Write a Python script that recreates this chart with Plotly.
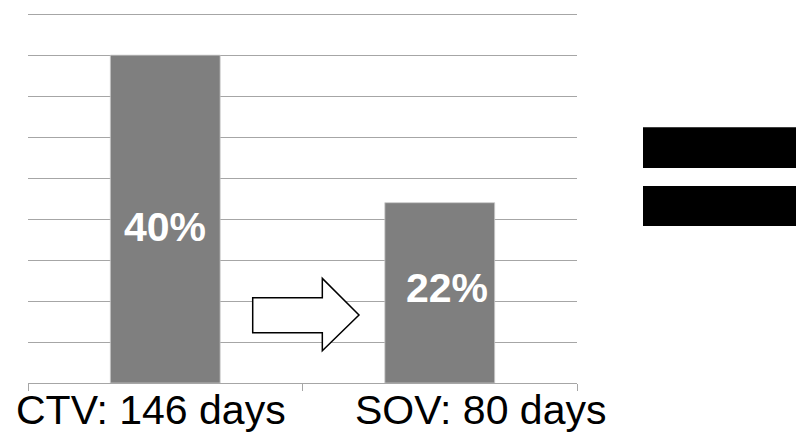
import plotly.graph_objects as go

# Share of patients, by scan protocol
categories = ["CTV: 146 days", "SOV: 80 days"]
values = [40, 22]
value_labels = ["40%", "22%"]

FONT = "Liberation Sans, Arial, sans-serif"

# plot-area geometry in pixels, used to place the decorative shapes
L, R, B = 28, 577, 383
Y_MAX = 46
UNIT = 41 / 5            # pixels per percentage point
T = B - Y_MAX * UNIT


def px(x):
    return (x - L) / (R - L)


def py(y):
    return (B - y) / (B - T)


fig = go.Figure()
fig.add_trace(go.Bar(
    x=categories,
    y=values,
    width=0.4,
    marker=dict(color="#7f7f7f", line=dict(color="#c8c8c8", width=0.8)),
    hoverinfo="skip",
))

# value labels inside the bars, around mid-height
label_offsets = [(0, -8), (7, 5)]
for cat, v, lab, (dx, dy) in zip(categories, values, value_labels, label_offsets):
    fig.add_annotation(
        x=cat, y=v / 2, xref="x", yref="y",
        text=f"<b>{lab}</b>", showarrow=False,
        xanchor="center", yanchor="middle",
        xshift=dx, yshift=dy,
        font=dict(family=FONT, size=41, color="white"),
    )

# category captions below the axis
shifts = [-14, 41]
for cat, dx in zip(categories, shifts):
    fig.add_annotation(
        x=cat, y=0, xref="x", yref="y",
        text=cat, showarrow=False,
        xanchor="center", yanchor="top",
        xshift=dx, yshift=-2,
        font=dict(family=FONT, size=41, color="black"),
    )

# outlined right-pointing arrow between the bars
arrow_pts = [(252.7, 297.7), (322.3, 297.7), (322.3, 278.3), (359, 315),
             (322.3, 350.7), (322.3, 332.7), (252.7, 332.7)]
path = "M " + " L ".join(f"{px(x):.4f},{py(y):.4f}" for x, y in arrow_pts) + " Z"
fig.add_shape(type="path", path=path, xref="paper", yref="paper",
              line=dict(color="black", width=1.5), fillcolor="white")

# equals sign on the right
for y0, y1 in [(127, 168), (186, 226)]:
    fig.add_shape(type="rect", xref="paper", yref="paper",
                  x0=px(643), x1=px(800), y0=py(y1), y1=py(y0),
                  line=dict(width=0), fillcolor="black")

fig.update_layout(
    width=796, height=434,
    margin=dict(l=L, r=796 - R, t=T, b=434 - B),
    paper_bgcolor="white", plot_bgcolor="white",
    showlegend=False,
    xaxis=dict(
        range=[-0.5, 1.5],
        showticklabels=False,
        showline=True, linecolor="#a6a6a6", linewidth=1.3,
        ticks="outside", tickson="boundaries", ticklen=7,
        tickcolor="#a6a6a6", tickwidth=1.3,
        showgrid=False,
    ),
    yaxis=dict(
        range=[0, Y_MAX], dtick=5, tick0=0,
        showticklabels=False,
        showgrid=True, gridcolor="#a6a6a6", gridwidth=1.3,
        zeroline=False, showline=False,
    ),
)

fig.write_html("out.html")
